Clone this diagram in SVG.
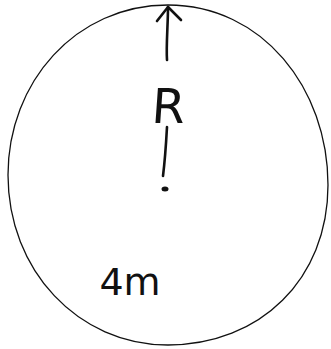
<svg xmlns="http://www.w3.org/2000/svg" width="331" height="349" viewBox="0 0 331 349">
<style>
.ink{fill:none;stroke:#111;stroke-width:1.3;stroke-linecap:round;stroke-linejoin:round}
.bold{fill:none;stroke:#111;stroke-width:2.6;stroke-linecap:round;stroke-linejoin:round}
.lbl{font-family:"DejaVu Sans","Liberation Sans",sans-serif;fill:#111}
</style>
<rect width="331" height="349" fill="#fff"/>
<g id="circle">
<path class="ink" d="M168,5 C262,5 328,88 328,185 C328,279 260,345 168,345 C78,345 8,270 8,175 C8,82 76,5 168,5 Z"/>
</g>
<g id="connectors">
<path class="bold" d="M167,60 C166,45 168,25 168,7"/>
<path class="bold" d="M157,21 L168,7 L181,20"/>
<path class="bold" d="M167,127 C166,145 165,160 163,176"/>
<ellipse cx="165" cy="189" rx="3.5" ry="2.5" fill="#111"/>
</g>
<g id="label-R">
<text class="lbl" x="168" y="123" font-size="48" text-anchor="middle" transform="skewX(-4)" dx="8">R</text>
</g>
<g id="label-4m">
<text class="lbl" x="130" y="295" font-size="38" text-anchor="middle">4m</text>
</g>
</svg>
